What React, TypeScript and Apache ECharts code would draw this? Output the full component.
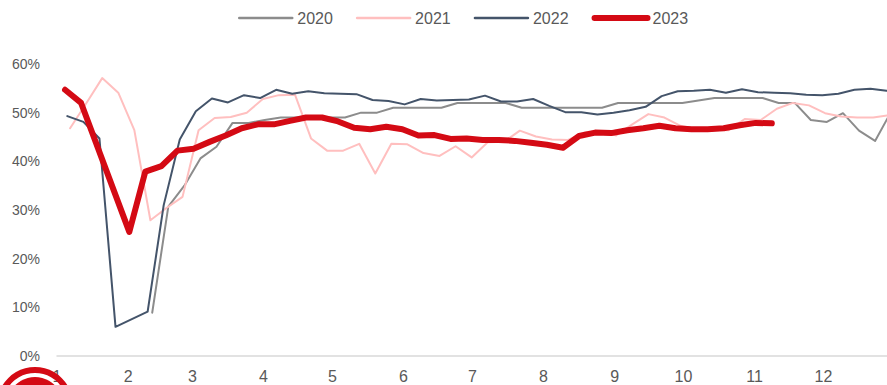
import React, { useEffect, useRef } from "react";
import * as echarts from "echarts";

// Month labels (day-of-year where each month starts)
const monthStarts = [0, 31, 59, 90, 120, 151, 181, 212, 243, 273, 304, 334];
const monthLabels = ["1", "2", "3", "4", "5", "6", "7", "8", "9", "10", "11", "12"];

const seriesNames = ["2020", "2021", "2022", "2023"];

// Weekly values (%), first point day-of-year given by start constants, 7 days apart
const start2020 = 41.5;
const values2020 = [
  8.9, 30.7, 35.0, 40.6, 43.0, 47.9, 47.9, 48.5, 49.0, 49.0, 49.0, 49.0, 49.0, 50.0, 50.0,
  51.0, 51.0, 51.0, 51.0, 52.0, 52.0, 52.0, 52.0, 51.0, 51.0, 51.0, 51.0, 51.0, 51.0, 52.0,
  52.0, 52.0, 52.0, 52.0, 52.5, 53.0, 53.0, 53.0, 53.0, 52.0, 52.0, 48.5, 48.1, 49.9, 46.3,
  44.2, 50.2,
];

const start2021 = 5.7;
const values2021 = [
  46.8, 51.9, 57.1, 54.1, 46.4, 27.9, 30.4, 32.7, 46.4, 48.9, 49.1, 50.0, 52.8, 53.6, 53.7,
  44.7, 42.2, 42.2, 43.6, 37.5, 43.6, 43.5, 41.7, 41.1, 43.1, 40.8, 43.9, 44.0, 46.3, 45.1,
  44.5, 44.4, 45.9, 46.2, 45.3, 47.6, 49.7, 49.0, 47.3, 46.6, 46.5, 46.4, 48.7, 48.5, 50.8,
  52.0, 51.5, 49.9, 49.2, 49.0, 49.0, 49.5,
];

const start2022 = 4.5;
const values2022 = [
  49.3, 48.1, 44.7, 6.0, null, 9.1, 31.0, 44.5, 50.3, 52.9, 52.1, 53.6, 53.0, 54.7, 53.9,
  54.4, 54.0, 53.9, 53.8, 52.6, 52.4, 51.7, 52.8, 52.5, 52.6, 52.7, 53.5, 52.3, 52.3, 52.8,
  51.4, 50.1, 50.1, 49.6, 50.0, 50.5, 51.2, 53.4, 54.4, 54.5, 54.7, 54.1, 54.8, 54.2, 54.1,
  54.0, 53.7, 53.6, 53.9, 54.7, 54.9, 54.5,
];

const start2023 = 3.5;
const values2023 = [
  54.7, 52.0, null, null, 25.5, 37.9, 39.0, 42.2, 42.6, 44.0, 45.3, 46.8, 47.6, 47.6, 48.3,
  49.0, 49.0, 48.2, 46.9, 46.6, 47.1, 46.6, 45.3, 45.4, 44.6, 44.7, 44.4, 44.4, 44.2, 43.8,
  43.4, 42.8, 45.2, 45.9, 45.8, 46.4, 46.8, 47.3, 46.8, 46.6, 46.6, 46.8, 47.4, 47.9, 47.8,
];

const yTicks = [0, 10, 20, 30, 40, 50, 60];

const colors = ["#8c8c8c", "#ffbfbf", "#44546a", "#d40a14"];
const widths = [2, 2, 2, 6];

function toPoints(start: number, vals: (number | null)[]) {
  const pts: [number, number][] = [];
  vals.forEach((v, k) => {
    if (v !== null) pts.push([start + 7 * k, v]);
  });
  return pts;
}

export default function App() {
  const ref = useRef<HTMLDivElement>(null);

  useEffect(() => {
    if (!ref.current) return;
    const chart = echarts.init(ref.current, null, { renderer: "svg" });
    const dataSets = [
      toPoints(start2020, values2020),
      toPoints(start2021, values2021),
      toPoints(start2022, values2022),
      toPoints(start2023, values2023),
    ];
    const font = "'Liberation Sans', Arial, sans-serif";
    chart.setOption({
      animation: false,
      backgroundColor: "#ffffff",
      textStyle: { fontFamily: font },
      legend: {
        left: 233,
        top: 5,
        itemWidth: 53,
        itemHeight: 16,
        itemGap: 23,
        textStyle: { fontSize: 16, color: "#595959", fontFamily: font },
        data: seriesNames.map((n, i) => ({
          name: n,
          itemStyle: { opacity: 0 },
          lineStyle: { width: i === 3 ? 6 : 2.5, color: colors[i], cap: "round" },
        })),
      },
      grid: { left: 57, right: 0, top: 64, bottom: 29, containLabel: false },
      xAxis: {
        type: "value",
        min: 0,
        max: 361.7,
        axisLine: { show: true, lineStyle: { color: "#d9d9d9", width: 1.5 } },
        axisTick: { show: false },
        splitLine: { show: false },
        axisLabel: {
          customValues: monthStarts,
          formatter: (v: number) => monthLabels[monthStarts.indexOf(v)] ?? "",
          color: "#595959",
          fontSize: 16,
          margin: 12,
          fontFamily: font,
        },
      },
      yAxis: {
        type: "value",
        min: yTicks[0],
        max: yTicks[yTicks.length - 1],
        interval: 10,
        axisLine: { show: false },
        axisTick: { show: false },
        splitLine: { show: false },
        axisLabel: {
          formatter: "{value}%",
          color: "#595959",
          fontSize: 14,
          margin: 17,
          fontFamily: font,
        },
      },
      graphic: [
        {
          type: "ring",
          shape: { cx: 35, cy: 405, r: 38, r0: 32 },
          style: { fill: "#d40a14" },
          z: 100,
        },
        {
          type: "circle",
          shape: { cx: 35, cy: 405, r: 28 },
          style: { fill: "#d40a14" },
          z: 100,
        },
      ],
      series: seriesNames.map((n, i) => ({
        name: n,
        type: "line",
        data: dataSets[i],
        showSymbol: false,
        symbol: "none",
        z: 2 + i,
        lineStyle: {
          color: colors[i],
          width: widths[i],
          cap: "round",
          join: "round",
        },
        itemStyle: { color: colors[i] },
      })),
    });
    return () => chart.dispose();
  }, []);

  return (
    <div
      ref={ref}
      style={{ position: "fixed", left: 0, top: 0, width: 887, height: 385, background: "#fff" }}
    />
  );
}
